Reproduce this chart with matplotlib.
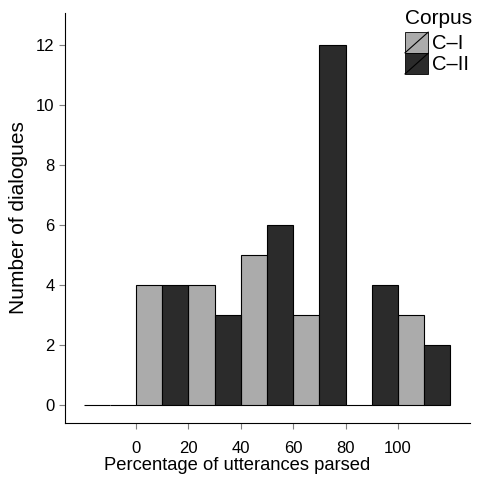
import matplotlib.pyplot as plt
from matplotlib.patches import Rectangle
from matplotlib.lines import Line2D
from matplotlib.legend_handler import HandlerPatch

plt.rcParams['font.family'] = ['Liberation Sans', 'DejaVu Sans']

# histogram bins (left edges, width 20) and counts per corpus
bin_left = [-20, 0, 20, 40, 60, 80, 100]
count_c1 = [0, 4, 4, 5, 3, 0, 3]
count_c2 = [0, 4, 3, 6, 12, 4, 2]
labels = ['C\u2013I', 'C\u2013II']
colors = ['#ababab', '#2b2b2b']


class SlashHandler(HandlerPatch):
    # legend key like ggplot: filled box with a diagonal line
    def create_artists(self, legend, orig_handle, xdescent, ydescent,
                       width, height, fontsize, trans):
        r = Rectangle((-xdescent, -ydescent), width, height,
                      facecolor=orig_handle.get_facecolor(),
                      edgecolor='black', lw=0.6, transform=trans)
        l = Line2D([-xdescent, -xdescent + width], [-ydescent, -ydescent + height],
                   color='black', lw=0.8, transform=trans)
        return [r, l]


fig = plt.figure(figsize=(4.8, 4.78), dpi=100)
ax = fig.add_axes([65/480, 1-423/478, 405/480, 410/478])

b1 = ax.bar([x + 5 for x in bin_left], count_c1, width=10, color=colors[0],
            edgecolor='black', lw=0.8, label=labels[0])
b2 = ax.bar([x + 15 for x in bin_left], count_c2, width=10, color=colors[1],
            edgecolor='black', lw=0.8, label=labels[1])

ax.set_xlim(-27.1, 127.5)
ax.set_ylim(-0.6, 13.07)
ax.set_xticks([0, 20, 40, 60, 80, 100])
ax.set_yticks([0, 2, 4, 6, 8, 10, 12])
ax.tick_params(labelsize=12, color='#7f7f7f', length=4, width=0.8)
ax.tick_params(axis='x', pad=9)
ax.tick_params(axis='y', pad=3.5)
ax.spines['top'].set_visible(False)
ax.spines['right'].set_visible(False)
ax.set_xlabel('Percentage of utterances parsed', fontsize=13.2)
ax.xaxis.set_label_coords(0.425, -0.083)
ax.set_ylabel('Number of dialogues', fontsize=15, labelpad=6)

h1 = Rectangle((0, 0), 1, 1, facecolor=colors[0])
h2 = Rectangle((0, 0), 1, 1, facecolor=colors[1])
leg = fig.legend([h1, h2], labels, title='Corpus', loc='upper left',
                 bbox_to_anchor=(405/480, 1-9/478), frameon=False,
                 fontsize=14.5, title_fontsize=15, handlelength=1.15,
                 handleheight=1.2, handletextpad=0.2, labelspacing=0.0,
                 borderpad=0.0, borderaxespad=0,
                 handler_map={Rectangle: SlashHandler()})
leg._legend_box.align = 'left'
leg._legend_box.sep = 3

fig.savefig('out.png', dpi=100)
